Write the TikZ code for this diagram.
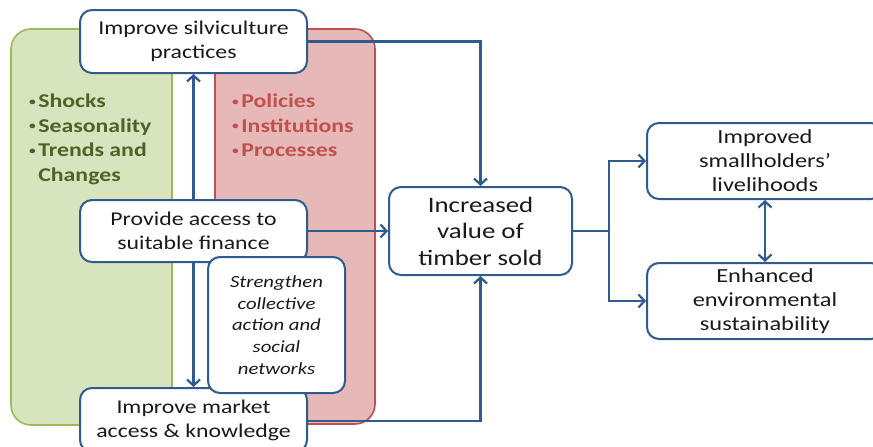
\documentclass[tikz,border=0pt]{standalone}
\usepackage{fontspec}
\setmainfont{Carlito}[FakeStretch=1.22]
\usetikzlibrary{arrows.meta}
\definecolor{bl}{HTML}{2F5B8E}
\definecolor{gfill}{HTML}{D7E4BD}
\definecolor{gline}{HTML}{9BBB59}
\definecolor{gtext}{HTML}{4F6228}
\definecolor{rfill}{HTML}{E6B9B8}
\definecolor{rline}{HTML}{C0504D}
\definecolor{rtext}{HTML}{C0504D}
\definecolor{txt}{HTML}{1A1A1A}
\newcommand{\bul}{\raisebox{0.28ex}{\fontsize{11}{11}\selectfont•}\hspace{2.5pt}}
\tikzset{
  box/.style={draw=bl, line width=2pt, fill=white, rounded corners=12pt,
    align=center, inner sep=0pt, text=txt, font=\fontsize{19.5}{24}\selectfont},
  panel/.style={line width=1.6pt, rounded corners=20pt},
  tipb/.tip={Straight Barb[length=6pt,width=13pt]},
  arr/.style={draw=bl, line width=2.2pt, -tipb},
  arrtwo/.style={draw=bl, line width=2.2pt, tipb-tipb},
  conn/.style={draw=bl, line width=2.2pt},
  bullets/.style={align=left, anchor=north west, inner sep=0pt, font=\bfseries\fontsize{19.5}{24.5}\selectfont}
}
\begin{document}
\begin{tikzpicture}[x=1pt,y=-1pt]
\useasboundingbox (0,0) rectangle (873,447);
\clip (0,0) rectangle (873,447);
\fill[white] (0,0) rectangle (873,447);
% context panels
\draw[panel, fill=gfill, draw=gline] (11,29) rectangle (172,425);
\draw[panel, fill=rfill, draw=rline] (215,29) rectangle (375,424);
\node[bullets, text=gtext] (gtxt) at (29,94) {\bul Shocks\\\bul Seasonality\\\bul Trends and\\\hphantom{\bul}Changes};
\node[bullets, text=rtext] (rtxt) at (232,94) {\bul Policies\\\bul Institutions\\\bul Processes};
% left boxes
\node[box, minimum width=227pt, minimum height=63pt] (silv) at (193.5,41.5) {Improve silviculture\\practices};
\node[box, minimum width=227pt, minimum height=62pt] (fin) at (193.5,231) {Provide access to\\suitable finance};
\node[box, minimum width=227pt, minimum height=64pt] (mkt) at (193.5,420) {Improve market\\access \& knowledge};
\node[box, minimum width=137pt, minimum height=136pt, font=\itshape\fontsize{17}{21.8}\selectfont] (str) at (276.5,325) {Strengthen\\collective\\action and\\social\\networks};
% centre and right boxes
\node[box, minimum width=183pt, minimum height=88pt, font=\fontsize{22}{26.5}\selectfont] (inc) at (480.5,231) {Increased\\value of\\timber sold};
\node[box, minimum width=236pt, minimum height=76pt, font=\fontsize{20}{24}\selectfont] (imp) at (765,161) {Improved\\smallholders’\\livelihoods};
\node[box, minimum width=236pt, minimum height=76pt, font=\fontsize{20}{24}\selectfont] (enh) at (765,301) {Enhanced\\environmental\\sustainability};
% connectors
\draw[arr] (fin.north) -- (silv.south);
\draw[arr] (fin.south) -- (mkt.north);
\draw[arr] (silv.east) -| (inc.north);
\draw[arr] (fin.east) -- (inc.west);
\draw[arr] ([yshift=-1pt]mkt.east) -| (inc.south);
\coordinate (split) at (609,231);
\draw[conn] (inc.east) -- (split);
\draw[arr] (split) |- (imp.west);
\draw[arr] (split) |- (enh.west);
\draw[arrtwo] (imp.south) -- (enh.north);
\end{tikzpicture}
\end{document}
